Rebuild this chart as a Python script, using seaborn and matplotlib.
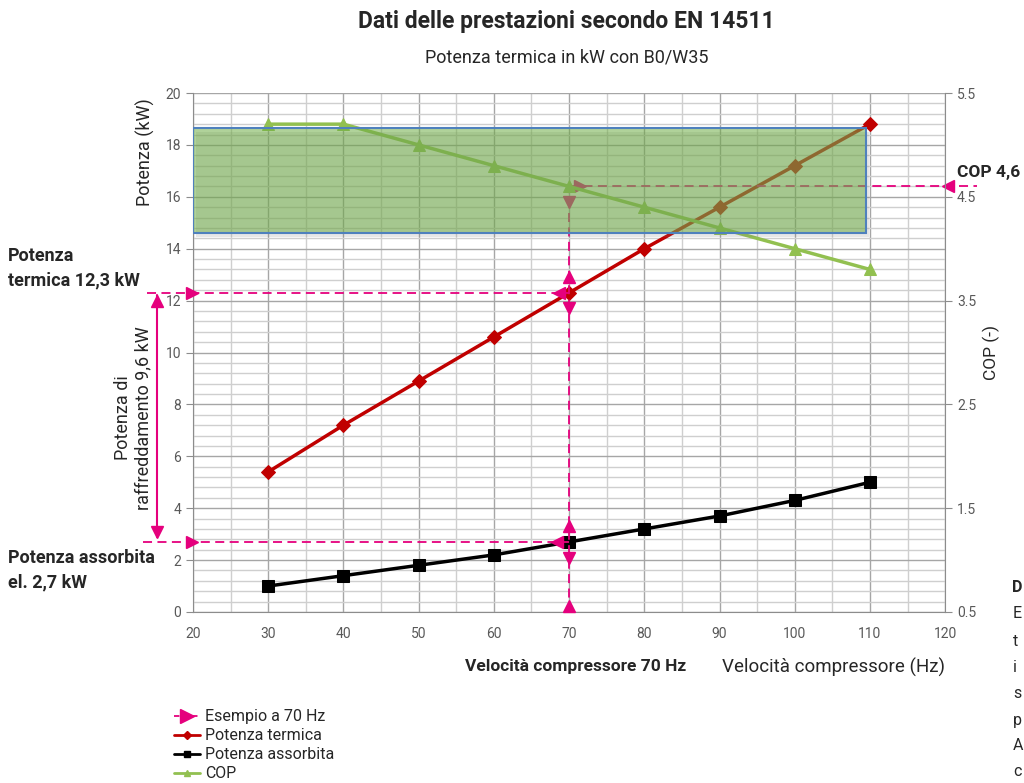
import numpy as np
import pandas as pd
import matplotlib.pyplot as plt
import matplotlib.patches as patches
from matplotlib.lines import Line2D
import seaborn as sns

# data
hz = [30, 40, 50, 60, 70, 80, 90, 100, 110]
potenza_termica = [5.4, 7.2, 8.9, 10.6, 12.3, 14.0, 15.6, 17.2, 18.8]
potenza_assorbita = [1.0, 1.4, 1.8, 2.2, 2.7, 3.2, 3.7, 4.3, 5.0]
cop = [5.2, 5.2, 5.0, 4.8, 4.6, 4.4, 4.2, 4.0, 3.8]
x_ticks = [20, 30, 40, 50, 60, 70, 80, 90, 100, 110, 120]
y_ticks = [0, 2, 4, 6, 8, 10, 12, 14, 16, 18, 20]
cop_ticks = [0.5, 1.5, 2.5, 3.5, 4.5, 5.5]
example_hz = 70

df = pd.DataFrame({'hz': hz, 'termica': potenza_termica,
                   'assorbita': potenza_assorbita, 'cop': cop})

sns.set_style('white')
plt.rcParams['font.family'] = ['Roboto', 'DejaVu Sans']

RED = '#c00000'
GREEN = '#92c050'
MAG = '#e5007d'
TICK = '#595959'

fig = plt.figure(figsize=(10.24, 7.83), dpi=100)
ax = fig.add_axes([0.1885, 0.2184, 0.7345, 0.6628])

sns.lineplot(data=df, x='hz', y='termica', ax=ax, color=RED, lw=2.5,
             marker='D', markersize=7, markeredgecolor=RED, zorder=4)
sns.lineplot(data=df, x='hz', y='assorbita', ax=ax, color='black', lw=2.5,
             marker='s', markersize=9, markeredgecolor='black', zorder=4)

ax.set_xlim(20, 120)
ax.set_ylim(0, 20)
ax.set_xticks(x_ticks)
ax.set_xticks(np.arange(20, 121, 5), minor=True)
ax.set_yticks(y_ticks)
ax.set_yticks(np.arange(0, 20.01, 0.4), minor=True)
ax.grid(which='major', color='#a6a6a6', lw=1.0)
ax.grid(which='minor', color='#cfcfcf', lw=1.0)
ax.set_axisbelow(True)
ax.tick_params(axis='both', which='major', direction='out', length=5,
               color='#8c8c8c', labelcolor=TICK, labelsize=10)
ax.tick_params(which='minor', length=0)
ax.tick_params(axis='x', pad=6)
for s in ['top', 'right']:
    ax.spines[s].set_visible(False)
for s in ['left', 'bottom']:
    ax.spines[s].set_color('#8c8c8c')
ax.set_xlabel('')
ax.set_ylabel('')

# COP on the right axis
ax2 = ax.twinx()
sns.lineplot(data=df, x='hz', y='cop', ax=ax2, color=GREEN, lw=2.5,
             marker='^', markersize=9, markeredgecolor=GREEN, zorder=4)
ax2.set_ylim(0.5, 5.5)
ax2.set_yticks(cop_ticks)
ax2.tick_params(axis='y', direction='out', length=5, color='#8c8c8c',
                labelcolor=TICK, labelsize=10)
for s in ['top', 'left', 'bottom']:
    ax2.spines[s].set_visible(False)
ax2.spines['right'].set_color('#8c8c8c')
ax2.set_ylabel('COP (-)', fontsize=12.5, labelpad=5)
ax2.set_xlabel('')

# operating range box (drawn over the curves), with a soft shadow
ax2.add_patch(patches.Rectangle((20.4, 14.45), 89.5, 4.05, transform=ax.transData,
                                facecolor='#7f7f7f', alpha=0.18, edgecolor='none', zorder=5))
ax2.add_patch(patches.Rectangle((20, 14.6), 89.5, 4.05, transform=ax.transData,
                                facecolor='#70ad47', alpha=0.55, edgecolor='none', zorder=6))
ax2.add_patch(patches.Rectangle((20, 14.6), 89.5, 4.05, transform=ax.transData,
                                fill=False, edgecolor='#4f81bd', lw=1.5, zorder=7))

# example at 70 Hz
i = hz.index(example_hz)
pt, pa, pc = potenza_termica[i], potenza_assorbita[i], cop[i]
pc_kw = (pc - 0.5) * 4
dash = dict(color=MAG, lw=1.3, ls=(0, (5, 3)), zorder=5, clip_on=False)
mk = dict(color=MAG, markersize=9, ls='none', zorder=5, clip_on=False)
ax.plot([example_hz, example_hz], [0, pc_kw], **dash)
ax.plot([13.9, example_hz], [pt, pt], **dash)
ax.plot([13.3, example_hz], [pa, pa], **dash)
ax.plot([example_hz, 124.2], [pc_kw, pc_kw], **dash)
ax.plot([19.8, 19.8], [pt, pa], marker='>', **mk)
ax.plot([example_hz - 1.4], [pt], marker='<', **mk)
ax.plot([example_hz - 1.6], [pa], marker='<', **mk)
ax.plot([example_hz] * 3, [pt + 0.6, pa + 0.6, 0.25], marker='^', **mk)
ax.plot([example_hz] * 3, [pt - 0.6, pa - 0.6, pc_kw - 0.6], marker='v', **mk)
ax.plot([example_hz + 1.5], [pc_kw], marker='>', **mk)
ax.plot([120.4], [pc_kw], marker='<', **mk)
# cooling capacity double arrow
ax.plot([15.2, 15.2], [pt - 0.1, pa + 0.2], color=MAG, lw=1.5, zorder=5, clip_on=False)
ax.plot([15.2], [pt - 0.3], marker='^', **mk)
ax.plot([15.2], [pa + 0.4], marker='v', **mk)

# texts
fig.text(0.553, 0.972, 'Dati delle prestazioni secondo EN 14511', ha='center',
         va='center', fontsize=16.5, fontweight='bold')
fig.text(0.553, 0.927, 'Potenza termica in kW con B0/W35', ha='center',
         va='center', fontsize=13)
fig.text(145 / 1024, 1 - 152 / 783, 'Potenza (kW)', rotation=90, ha='center',
         va='center', fontsize=13)
fig.text(133 / 1024, 1 - 418 / 783, 'Potenza di\nraffreddamento 9,6 kW', rotation=90,
         ha='center', va='center', fontsize=13, linespacing=1.2)
fig.text(8 / 1024, 1 - 268 / 783, 'Potenza\ntermica 12,3 kW', ha='left', va='center',
         fontsize=13, fontweight='bold', linespacing=1.45)
fig.text(8 / 1024, 1 - 570 / 783, 'Potenza assorbita\nel. 2,7 kW', ha='left',
         va='center', fontsize=13, fontweight='bold', linespacing=1.45)
fig.text(957 / 1024, 1 - 172 / 783, 'COP 4,6', ha='left', va='center',
         fontsize=12.5, fontweight='bold')
fig.text(686 / 1024, 1 - 667 / 783, 'Velocità compressore 70 Hz', ha='right',
         va='center', fontsize=12.5, fontweight='bold')
fig.text(722 / 1024, 1 - 667 / 783, 'Velocità compressore (Hz)', ha='left',
         va='center', fontsize=13.5)

# start of the neighbouring text column, cut by the page edge
fig.text(1012 / 1024, 1 - 587 / 783, 'D', ha='left', va='center', fontsize=11.5,
         fontweight='bold')
for ch, yy in zip(['E', 't', 'i', 's', 'p', 'A', 'c'], [613, 641, 667, 693, 720, 746, 772]):
    fig.text(1013 / 1024, 1 - yy / 783, ch, ha='left', va='center', fontsize=11.5)

# legend
handles = [
    Line2D([], [], color=MAG, lw=1.3, ls=(0, (3, 2)), marker='>', markersize=10,
           markevery=[1]),
    Line2D([], [], color=RED, lw=2, marker='D', markersize=4),
    Line2D([], [], color='black', lw=2, marker='s', markersize=5),
    Line2D([], [], color=GREEN, lw=2, marker='^', markersize=5),
]
labels = ['Esempio a 70 Hz', 'Potenza termica', 'Potenza assorbita', 'COP']
fig.legend(handles, labels, loc='upper left', bbox_to_anchor=(168 / 1024, 1 - 703 / 783),
           frameon=False, fontsize=11.5, handlelength=1.6, handletextpad=0.3,
           labelspacing=0.25, borderaxespad=0)

fig.savefig('out.png', dpi=100)
